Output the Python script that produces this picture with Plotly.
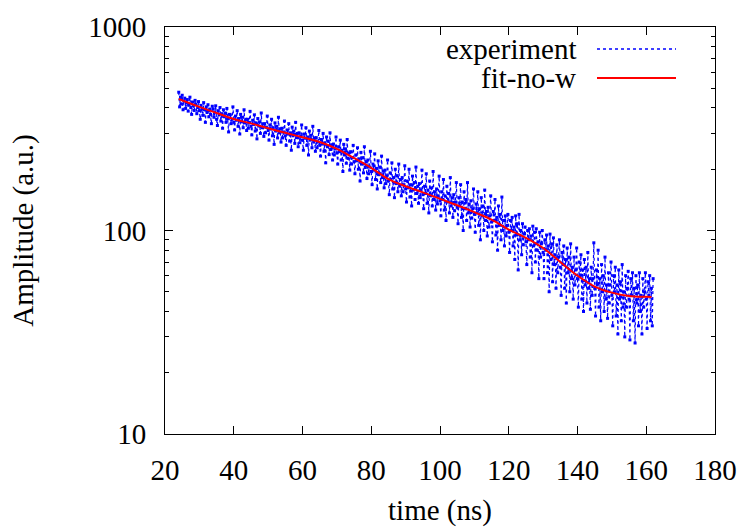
import plotly.graph_objects as go

# ---- data ----
exp_start = 24.0   # ns
exp_step = 0.25    # ns
exp_amp = [
    478, 405, 452, 418, 462, 392, 433, 447, 398, 425, 440, 386, 415, 452, 402, 372, 428, 410, 389, 436,
    418, 375, 402, 430, 388, 352, 412, 396, 368, 425, 392, 340, 405, 380, 415, 362, 395, 372, 335, 408,
    395, 360, 382, 410, 352, 328, 388, 370, 402, 345, 375, 318, 392, 362, 378, 340, 398, 355, 305, 372,
    370, 335, 352, 405, 340, 312, 365, 348, 388, 325, 355, 298, 372, 342, 360, 320, 392, 338, 352, 310,
    352, 318, 340, 385, 325, 295, 348, 332, 370, 308, 338, 282, 355, 326, 342, 300, 378, 320, 334, 290,
    335, 302, 322, 365, 310, 278, 330, 315, 352, 292, 320, 265, 338, 308, 325, 285, 360, 302, 316, 272,
    318, 285, 305, 345, 292, 262, 312, 298, 335, 275, 302, 248, 322, 292, 308, 268, 340, 286, 300, 258,
    302, 270, 290, 330, 278, 248, 298, 284, 320, 262, 288, 235, 308, 278, 294, 255, 325, 272, 285, 245,
    286, 255, 272, 310, 262, 232, 280, 266, 300, 245, 270, 215, 288, 258, 275, 236, 302, 250, 264, 222,
    266, 235, 252, 288, 240, 212, 258, 244, 278, 222, 248, 195, 265, 235, 252, 214, 280, 226, 240, 198,
    244, 212, 228, 262, 218, 190, 235, 220, 255, 200, 225, 175, 242, 212, 228, 192, 258, 204, 218, 180,
    222, 190, 205, 245, 195, 168, 212, 198, 238, 178, 202, 160, 220, 188, 205, 172, 232, 182, 196, 162,
    198, 170, 185, 222, 175, 150, 192, 178, 215, 160, 182, 145, 200, 170, 186, 155, 212, 165, 178, 148,
    182, 155, 168, 208, 160, 138, 175, 162, 200, 146, 168, 132, 185, 158, 172, 142, 205, 152, 165, 136,
    170, 145, 158, 198, 150, 128, 165, 152, 190, 136, 158, 122, 175, 148, 162, 132, 195, 142, 155, 126,
    160, 135, 148, 185, 140, 118, 155, 142, 178, 126, 148, 112, 165, 138, 152, 122, 182, 132, 145, 116,
    150, 125, 138, 172, 130, 108, 145, 132, 168, 116, 138, 100, 155, 128, 142, 112, 172, 122, 135, 104,
    140, 115, 128, 160, 120, 98, 135, 122, 155, 106, 128, 90, 145, 118, 132, 100, 158, 112, 124, 94,
    130, 104, 118, 148, 110, 88, 124, 112, 142, 95, 116, 80, 132, 106, 120, 90, 146, 100, 112, 84,
    118, 94, 106, 120, 98, 78, 112, 100, 116, 84, 104, 72, 118, 95, 108, 64, 120, 90, 100, 76,
    108, 85, 96, 104, 88, 68, 100, 90, 102, 74, 94, 62, 105, 84, 98, 70, 102, 80, 88, 58,
    98, 74, 86, 100, 78, 58, 90, 80, 95, 62, 84, 50, 96, 72, 86, 56, 92, 68, 76, 52,
    85, 62, 74, 90, 66, 48, 78, 68, 84, 52, 72, 44, 82, 62, 74, 50, 86, 58, 66, 46,
    74, 54, 64, 82, 58, 42, 70, 60, 76, 46, 64, 40, 72, 54, 66, 44, 78, 52, 58, 41,
    66, 48, 58, 87, 52, 38, 64, 54, 80, 42, 58, 36, 68, 50, 60, 40, 74, 46, 54, 37,
    62, 44, 54, 70, 48, 34, 60, 50, 66, 38, 54, 31, 64, 46, 56, 36, 68, 42, 50, 30,
    60, 42, 52, 63, 46, 29, 58, 48, 62, 36, 52, 28, 60, 44, 54, 34, 62, 40, 48, 31,
    58, 42, 50, 62, 46, 33, 56, 48, 60, 36, 52, 34, 58,
]
exp_time = [exp_start + i * exp_step for i in range(len(exp_amp))]

fit_time = [24, 30, 35, 40, 45, 50, 55, 60, 65, 70, 75, 80, 85, 90, 95,
            100, 105, 110, 115, 120, 125, 130, 135, 140, 145, 150, 155, 160, 161.5]
fit_amp = [443, 405, 378, 353, 336, 318, 302, 287, 272, 252, 227, 203, 179, 165, 154,
           143, 133, 123, 113, 101, 92, 82, 70, 60, 53, 49.5, 47.7, 47.2, 47.1]

x_ticks = [20, 40, 60, 80, 100, 120, 140, 160, 180]
y_ticks = [10, 100, 1000]
y_minor = [20, 30, 40, 50, 60, 70, 80, 90, 200, 300, 400, 500, 600, 700, 800, 900]

FONT = "Liberation Serif"
FS = 29
F = dict(family=FONT, size=FS, color="black")

fig = go.Figure()
fig.add_trace(go.Scatter(x=exp_time, y=exp_amp, mode="lines+markers", name="experiment",
                         line=dict(color="#0000ff", width=1.2, dash="dot"),
                         marker=dict(color="#0000ff", size=3, symbol="square", line=dict(width=0)),
                         showlegend=False))
fig.add_trace(go.Scatter(x=fit_time, y=fit_amp, mode="lines", name="fit-no-w",
                         line=dict(color="#ff0000", width=2, shape="spline"),
                         showlegend=False))

# gnuplot-style key: right-aligned text, sample line to the right
W, H = 740, 529
L, R, T, B = 165, 25, 27, 95
pw, ph = W - L - R, H - T - B
key = [("experiment", "#0000ff", "dot", 1.5, 49), ("fit-no-w", "#ff0000", "solid", 2, 78)]
for text, col, dash, lw, py in key:
    yp = 1 - (py - T) / ph
    fig.add_annotation(x=(578 - L) / pw, y=yp, xref="paper", yref="paper",
                       text=text, showarrow=False, xanchor="right", yanchor="middle",
                       font=F)
    fig.add_shape(type="line", xref="paper", yref="paper",
                  x0=(597 - L) / pw, x1=(676 - L) / pw, y0=yp, y1=yp,
                  line=dict(color=col, width=lw, dash=dash))

fig.update_layout(
    width=W, height=H,
    margin=dict(l=L, r=R, t=T, b=B),
    paper_bgcolor="white", plot_bgcolor="white",
    font=F,
    xaxis=dict(range=[20, 180], tickvals=x_ticks, ticks="inside", ticklen=8,
               tickcolor="black", tickfont=F,
               showline=True, linecolor="black", linewidth=1, mirror="ticks",
               showgrid=False, zeroline=False, ticklabelstandoff=10, automargin=False,
               title=dict(text="time (ns)", standoff=14, font=F)),
    yaxis=dict(type="log", range=[1, 3], tickvals=y_ticks,
               ticktext=[str(v) for v in y_ticks],
               ticks="inside", ticklen=8, tickcolor="black", tickfont=F,
               minor=dict(tickvals=y_minor, ticks="inside", ticklen=4,
                          tickcolor="black", showgrid=False),
               showline=True, linecolor="black", linewidth=1, mirror="ticks",
               showgrid=False, zeroline=False, ticklabelstandoff=12, automargin=False,
               title=dict(text="Amplitude (a.u.)", standoff=46, font=F)),
)

fig.write_html("out.html")
